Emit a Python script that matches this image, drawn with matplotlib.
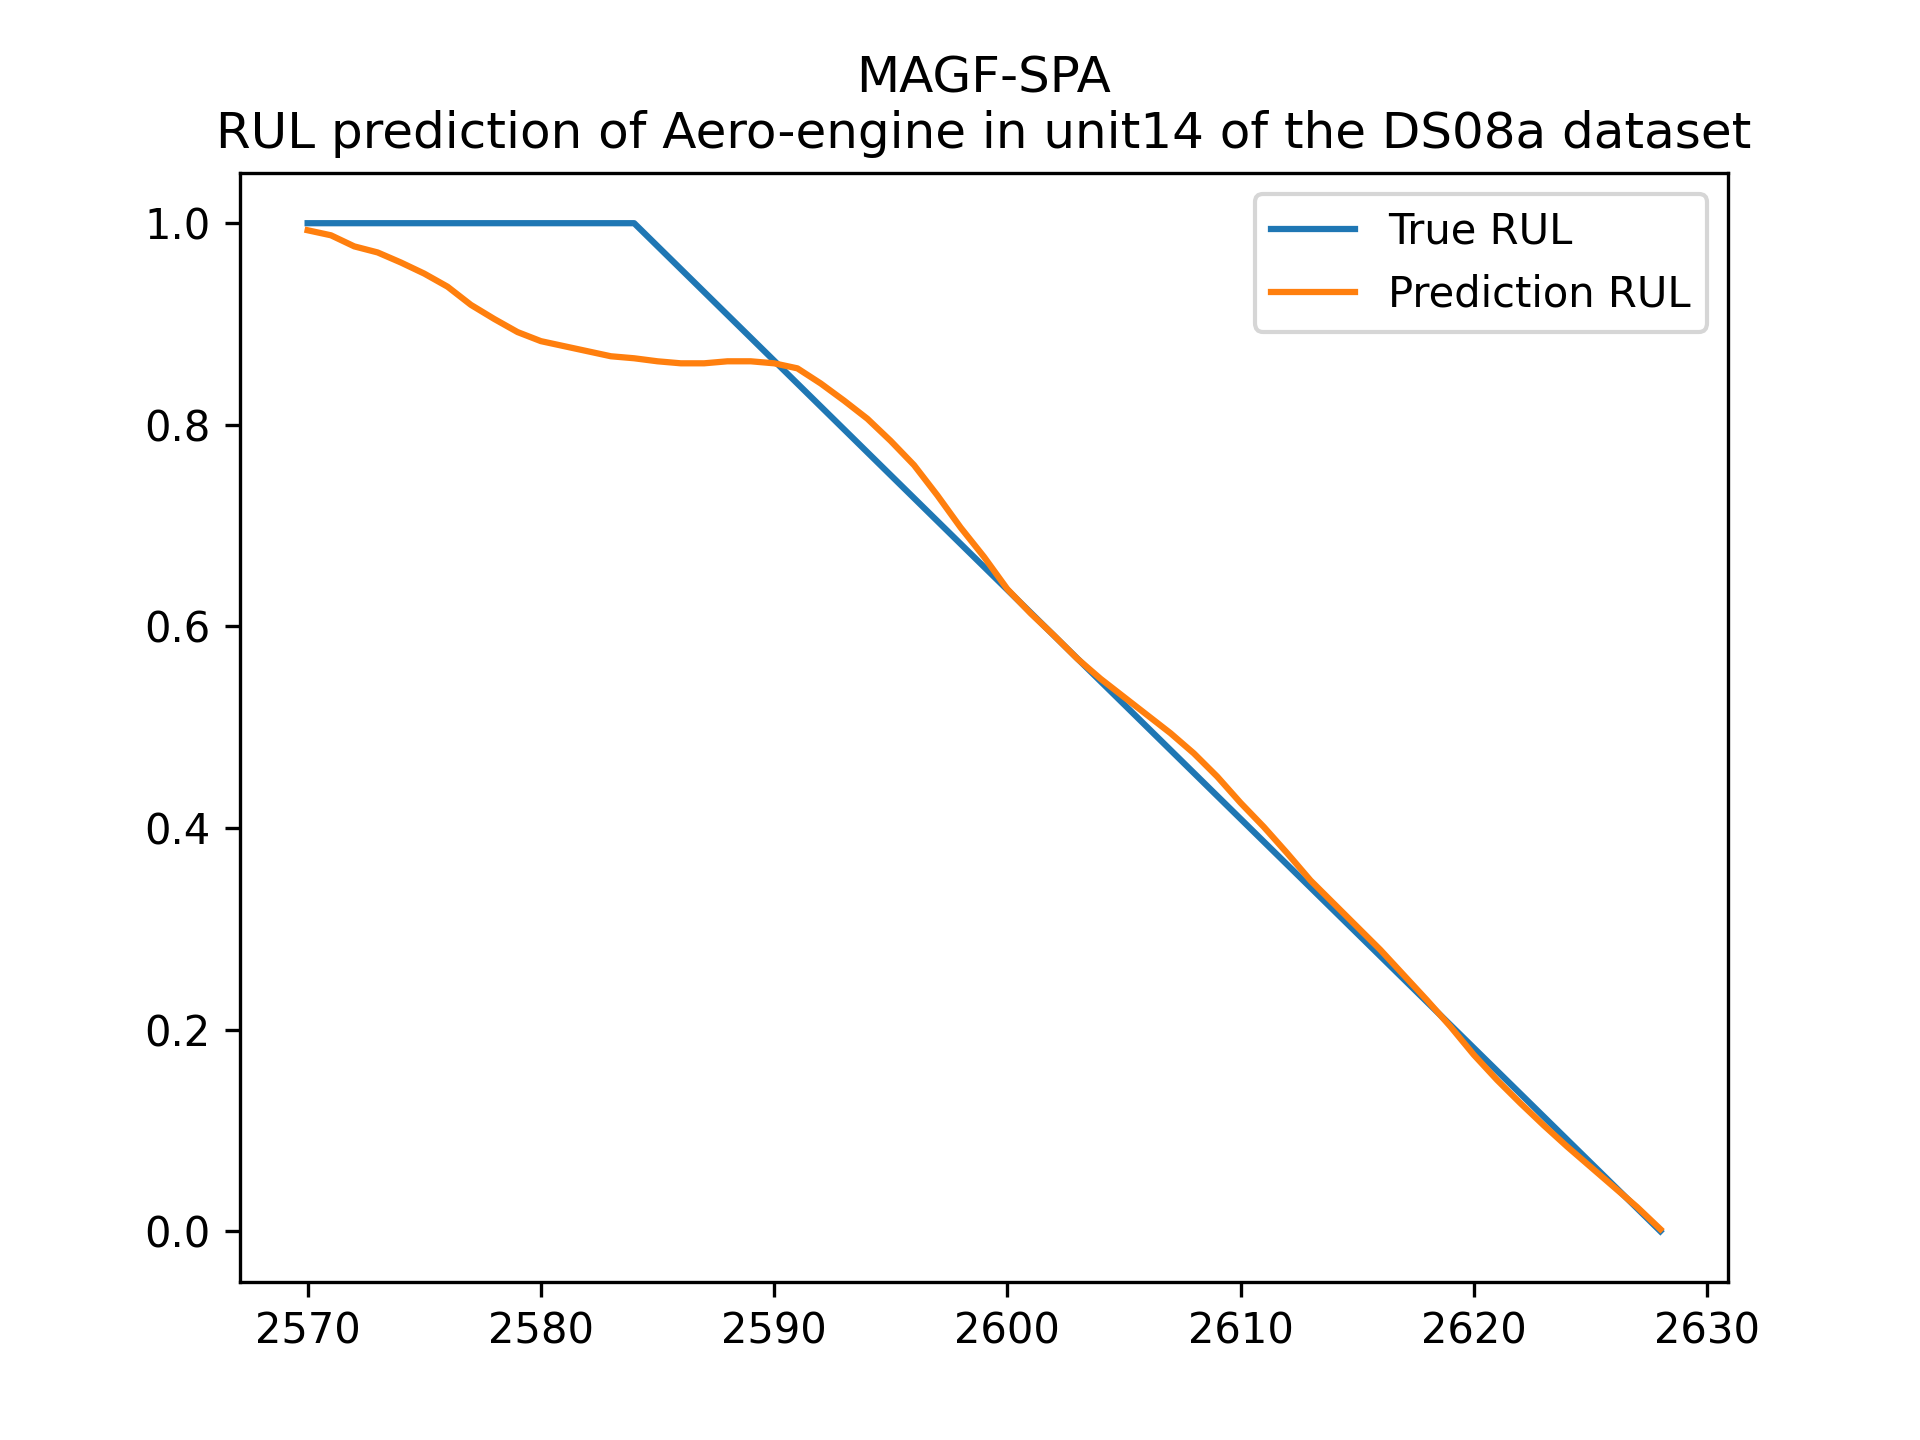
import matplotlib
matplotlib.use("Agg")
import matplotlib.pyplot as plt

# True RUL (piecewise linear breakpoints)
true_cycles = [2570, 2584, 2628]
true_rul = [1.0, 1.0, 0.0]

# Predicted RUL, one value per cycle 2570..2628
pred_cycles = list(range(2570, 2629))
pred_rul = [
    0.993, 0.988, 0.977, 0.971, 0.961, 0.950, 0.937, 0.919, 0.905, 0.892,
    0.883, 0.878, 0.873, 0.868, 0.866, 0.863, 0.861, 0.861, 0.863, 0.863,
    0.861, 0.856, 0.841, 0.824, 0.806, 0.784, 0.760, 0.730, 0.698, 0.669,
    0.637, 0.613, 0.591, 0.568, 0.548, 0.530, 0.512, 0.494, 0.474, 0.451,
    0.425, 0.401, 0.375, 0.348, 0.325, 0.302, 0.279, 0.254, 0.229, 0.203,
    0.175, 0.150, 0.127, 0.105, 0.084, 0.064, 0.044, 0.024, 0.002,
]

title = "MAGF-SPA\nRUL prediction of Aero-engine in unit14 of the DS08a dataset"

fig, ax = plt.subplots(figsize=(6.4, 4.8), dpi=300)
ax.plot(true_cycles, true_rul, label="True RUL")
ax.plot(pred_cycles, pred_rul, label="Prediction RUL")
ax.set_title(title)
ax.legend(loc="upper right")
fig.savefig("out.png", dpi=300)
